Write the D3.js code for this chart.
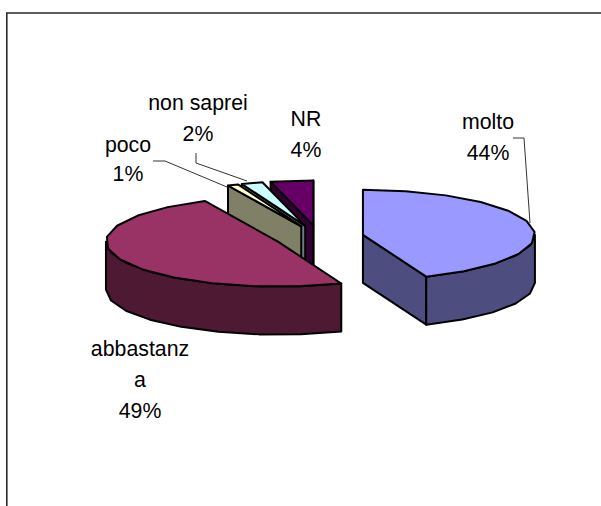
<!DOCTYPE html>
<html><head><meta charset="utf-8">
<script src="https://cdn.jsdelivr.net/npm/d3@7"></script>
<style>html,body{margin:0;padding:0;background:#fff}svg{display:block}</style>
</head><body><svg id="c" width="601" height="506"></svg>
<script>
const categories = ["molto","abbastanza","poco","non saprei","NR"];
const values = [44,49,1,2,4];
const percentLabels = ["44%","49%","1%","2%","4%"];
const topColors = ["#9999FF","#993366","#FFFFCC","#CCFFFF","#660066"];
const sideColors = ["#4D4D80","#4D1933","#808066","#668080","#330033"];

const svg = d3.select("#c");
const W=601,H=506;
const cx=319, cy=237, rx=172, ry=45, depth=48, explode=0.26;
const sx=d3.scaleLinear().domain([-1,1]).range([cx-rx,cx+rx]);
const sy=d3.scaleLinear().domain([-1,1]).range([cy-ry,cy+ry]);

svg.append("path").attr("d",`M6.8,${H}V13H${W}`).attr("fill","none").attr("stroke","#2a2a2a").attr("stroke-width",1.6);

const arcs=d3.pie().sort(null).value(d=>d)(values);
const line=d3.line();
const order=[4,3,2,1,0];
function pt(a,c,z){return [sx(c[0]+Math.sin(a)), sy(c[1]-Math.cos(a))+z];}
function sample(a0,a1){const n=Math.max(1,Math.ceil(Math.abs(a1-a0)/(Math.PI/12)));return d3.range(n+1).map(i=>a0+(a1-a0)*i/n);}
const g=svg.append("g").attr("stroke","#000").attr("stroke-width",2).attr("stroke-linejoin","round");
order.forEach(i=>{
  const d=arcs[i], mid=(d.startAngle+d.endAngle)/2;
  const c=[explode*Math.sin(mid),-explode*Math.cos(mid)];
  const A=(a,z)=>pt(a,c,z), O=z=>[sx(c[0]),sy(c[1])+z];
  const face=a=>line([O(0),A(a,0),A(a,depth),O(depth)])+"Z";
  if(Math.sin(d.startAngle)<0) g.append("path").attr("d",face(d.startAngle)).attr("fill",sideColors[i]);
  if(Math.sin(d.endAngle)>0) g.append("path").attr("d",face(d.endAngle)).attr("fill",sideColors[i]);
  const r0=Math.max(d.startAngle,Math.PI/2), r1=Math.min(d.endAngle,3*Math.PI/2);
  if(r1>r0){const s=sample(r0,r1);
    g.append("path").attr("d",line(s.map(a=>A(a,0)).concat(s.slice().reverse().map(a=>A(a,depth))))+"Z").attr("fill",sideColors[i]);}
  g.append("path").attr("d",line([O(0)].concat(sample(d.startAngle,d.endAngle).map(a=>A(a,0))))+"Z").attr("fill",topColors[i]);
});

const labelLayout=[
 {x:488,y:129,gap:31,lines:["molto"]},
 {x:140,y:356,gap:31,lines:["abbastanz","a"]},
 {x:128,y:152,gap:29,lines:["poco"]},
 {x:198,y:110,gap:31,lines:["non saprei"]},
 {x:306,y:126,gap:31,lines:["NR"]}];
const leaders=[[[513,138],[524,138],[530,223]],null,[[153,161],[165,161],[227,187]],[[196,153],[196,163],[247,181]],null];
leaders.forEach(p=>{if(p)svg.append("path").attr("d",line(p)).attr("fill","none").attr("stroke","#333").attr("stroke-width",1);});
labelLayout.forEach((l,i)=>{
  const t=svg.append("text").attr("font-family","Liberation Sans, Arial, sans-serif").attr("font-size",21.3).attr("fill","#000").attr("text-anchor","middle");
  l.lines.concat([percentLabels[i]]).forEach((s,k)=>t.append("tspan").attr("x",l.x).attr("y",l.y+k*l.gap).text(s));
});
</script></body></html>
